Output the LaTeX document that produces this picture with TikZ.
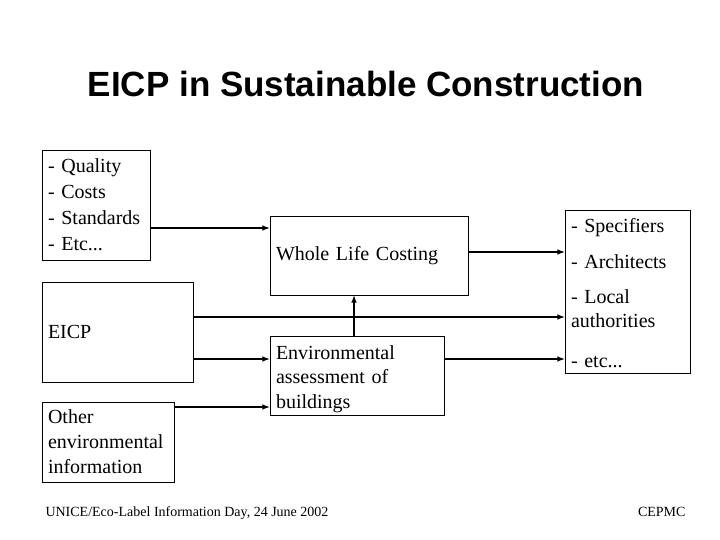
\documentclass[tikz,border=0pt]{standalone}
\usepackage{fontspec}
\setmainfont{Liberation Serif}
\newfontfamily\titlefont{Liberation Sans}
\usetikzlibrary{arrows,positioning}

\begin{document}
\begin{tikzpicture}[x=1pt,y=-1pt,
    box/.style={draw,line width=0.8pt,inner xsep=6pt,inner ysep=0pt,align=left,
      font=\fontsize{20}{25}\selectfont},
    arr/.style={-latex,line width=1.5pt}]
  \useasboundingbox (0,0) rectangle (720,540);
  \node[anchor=base,font=\titlefont\bfseries\fontsize{35}{40}\selectfont] (title) at (366,97) {EICP in Sustainable Construction};

  % inputs
  \node[box,text width=96pt,minimum height=110pt,font=\fontsize{20}{26}\selectfont] (quality) at (96,205) {- Quality\\- Costs\\- Standards\\- Etc...};
  \node[box,text width=139pt,minimum height=100pt] (eicp) at (117.5,332) {EICP};
  \node[box,text width=120pt,minimum height=80pt] (other) at (108,442) {Other\\environmental\\information};

  % tools
  \node[box,text width=186pt,minimum height=79pt] (wlc) at (369,255.5) {Whole Life Costing};
  \node[box,text width=162pt,minimum height=79pt,font=\fontsize{20}{24.5}\selectfont] (env) at (357,375.5) {\\[-4pt]Environmental\\assessment of\\buildings};

  % users
  \node[box,text width=113pt,minimum height=163pt,font=\fontsize{20}{24}\selectfont] (users) at (627.5,291.5) {\\[-6pt]- Specifiers\\[12pt]- Architects\\[11pt]- Local\\authorities\\[16pt]- etc...};

  \draw[arr] (quality.east |- 0,228) -- (wlc.west |- 0,228);
  \draw[arr] (eicp.east |- 0,317) -- (users.west |- 0,317);
  \draw[arr] (eicp.east |- 0,359) -- (env.west |- 0,359);
  \draw[arr] (other.east |- 0,407) -- (env.west |- 0,407);
  \draw[arr] (env.north -| 354,0) -- (wlc.south -| 354,0);
  \draw[arr] (wlc.east |- 0,252) -- (users.west |- 0,252);
  \draw[arr] (env.east |- 0,359) -- (users.west |- 0,359);

  \node[anchor=base west,font=\fontsize{14}{16}\selectfont] (event) at (42,516) {UNICE/Eco-Label Information Day, 24 June 2002};
  \node[anchor=base east,font=\fontsize{14}{16}\selectfont] (org) at (689,516) {CEPMC};
\end{tikzpicture}
\end{document}
